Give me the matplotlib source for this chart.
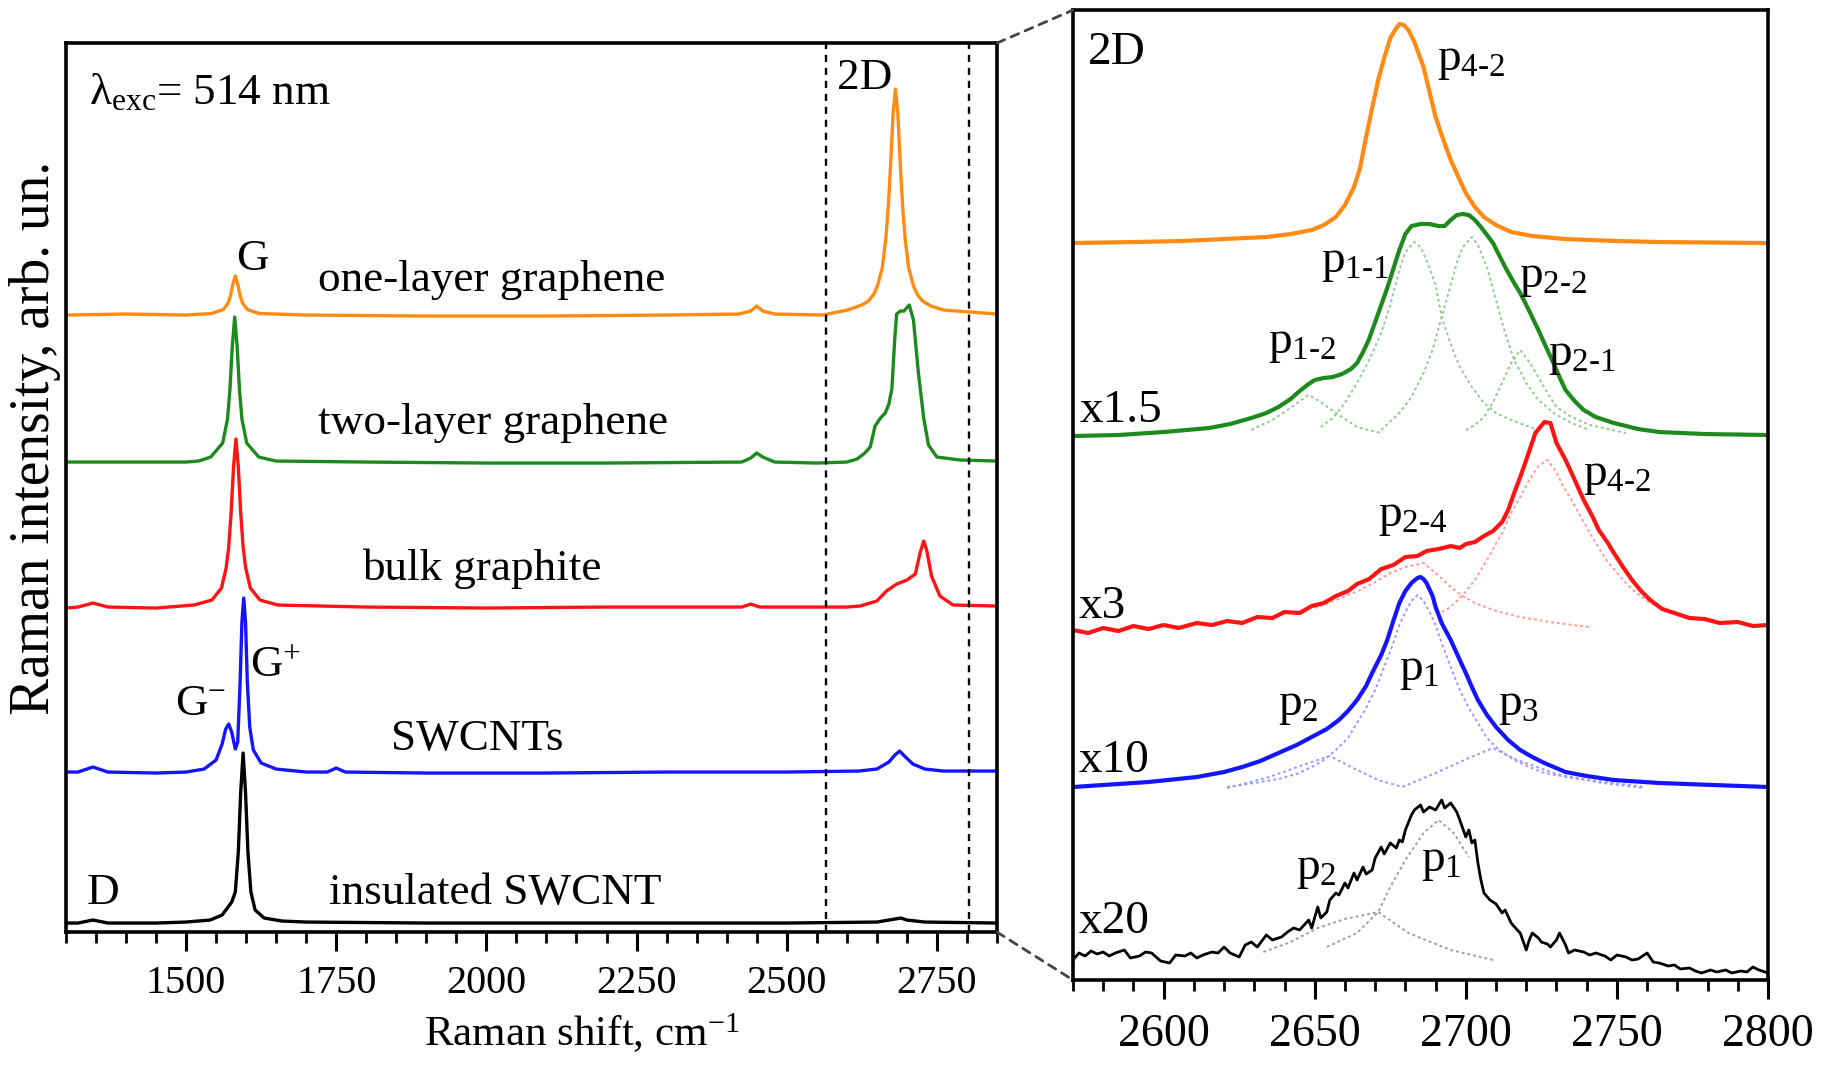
import matplotlib
matplotlib.use("Agg")
import matplotlib.pyplot as plt
from matplotlib.patches import ConnectionPatch
from matplotlib.ticker import MultipleLocator

# ---- full spectra (left panel), y in arbitrary units ----
one_x = [1300, 1400, 1500, 1542, 1562, 1570, 1574, 1578, 1582, 1586, 1590, 1594, 1602, 1622, 1700, 1900,
         2100, 2300, 2420, 2440, 2450, 2460, 2480, 2560, 2601, 2625, 2636, 2645, 2651, 2659, 2665, 2669,
         2673, 2677, 2681, 2685, 2689, 2693, 2697, 2703, 2711, 2718, 2726, 2740, 2761, 2850]
one_y = [617, 618, 617, 618.5, 622.5, 629, 636.5, 648, 656, 648, 636.5, 629, 622.5, 618.5, 617, 616,
         616, 617, 618, 621, 626, 621, 618, 617, 622, 627, 631, 638, 646, 664, 694, 725,
         768, 818, 843, 818, 768, 725, 694, 664, 646, 637, 631, 626, 622, 618]

two_x = [1300, 1400, 1500, 1521, 1541, 1561, 1569, 1573, 1577, 1581, 1585, 1589, 1593, 1601, 1621, 1650,
         1800, 2000, 2200, 2425, 2440, 2450, 2460, 2480, 2550, 2600, 2617, 2630, 2639, 2647, 2656, 2664,
         2670, 2675, 2680, 2683, 2689, 2695, 2704, 2711, 2719, 2728, 2736, 2750, 2789, 2850]
two_y = [470, 470, 470, 471, 475, 489, 513, 542, 586, 615, 586, 542, 513, 489, 475, 471,
         470, 469, 469, 470, 474, 479, 475, 470, 469, 470, 473, 479, 485, 506, 514, 519,
         528, 543, 595, 618, 621, 621, 627, 612, 560, 514, 487, 475, 472, 471]

bulk_x = [1300, 1320, 1345, 1370, 1450, 1513, 1543, 1559, 1567, 1571, 1575, 1579, 1583, 1587, 1591, 1595,
          1599, 1607, 1623, 1653, 1800, 2000, 2200, 2425, 2440, 2455, 2600, 2622, 2650, 2666, 2683, 2700,
          2714, 2722, 2728, 2733, 2741, 2755, 2777, 2850]
bulk_y = [324, 325, 329, 325, 324, 327, 332, 344, 365, 385, 419, 465, 493, 465, 419, 385,
          365, 344, 332, 327, 325, 324, 325, 325, 328, 325, 325, 326, 331, 341, 348, 352,
          358, 379, 391, 382, 356, 336, 327, 326]

swnt_x = [1300, 1320, 1345, 1370, 1450, 1500, 1530, 1550, 1560, 1566, 1571, 1576, 1582, 1586, 1590, 1593,
          1596, 1599, 1602, 1606, 1612, 1625, 1650, 1700, 1735, 1750, 1765, 1900, 2100, 2300, 2500, 2620,
          2650, 2670, 2680, 2688, 2696, 2710, 2730, 2760, 2850]
swnt_y = [160, 160, 165, 160, 159, 160, 163, 172, 188, 203, 208, 200, 183, 190, 250, 310,
          334, 310, 250, 205, 182, 169, 163, 160, 160, 164, 160, 159, 159, 160, 160, 161,
          163, 170, 177, 181, 176, 168, 163, 161, 161]

iso_x = [1300, 1320, 1345, 1370, 1450, 1500, 1540, 1560, 1570, 1576, 1582, 1587, 1591, 1595, 1599, 1603,
         1608, 1615, 1630, 1660, 1700, 1900, 2100, 2300, 2500, 2650, 2680, 2690, 2700, 2730, 2850]
iso_y = [9, 9, 12, 9, 9, 10, 12, 17, 25, 30, 40, 80, 140, 179, 140, 80,
         40, 22, 14, 11, 10, 9, 9, 9, 9, 10, 13, 14, 12, 10, 9]

zoom_lo, zoom_hi = 2565, 2803

# ---- 2D band (right panel) ----
r_one_x = [2570, 2590, 2606, 2620, 2634, 2642, 2649, 2653, 2657, 2660, 2663, 2665, 2667, 2669, 2671, 2673,
           2675, 2677, 2678, 2679.5, 2681, 2683, 2686, 2688, 2690, 2692, 2695, 2698, 2700, 2703, 2706, 2710,
           2715, 2722, 2733, 2750, 2764, 2800]
r_one_y = [737, 738, 739, 741, 743, 746, 750, 755, 763, 775, 793, 812, 843, 872, 900, 922,
           942, 952, 956, 955, 950, 938, 913, 888, 863, 845, 820, 800, 787, 773, 763, 755,
           748, 744, 741, 739, 738, 737]

r_two_x = [2570, 2585, 2600, 2615, 2622, 2629, 2634, 2638, 2642, 2645, 2648, 2650, 2653, 2656, 2659, 2662,
           2664, 2666, 2668, 2670, 2672, 2674, 2676, 2678, 2680, 2682, 2685, 2688, 2691, 2693, 2695, 2697,
           2699, 2701, 2703, 2705, 2707, 2709, 2711, 2713, 2716, 2718, 2721, 2724, 2727, 2729, 2731, 2733,
           2736, 2739, 2743, 2749, 2757, 2764, 2779, 2800]
r_two_y = [544, 545, 548, 552, 556, 562, 567, 573, 581, 589, 596, 600, 602, 603, 606, 611,
           617, 628, 641, 658, 675, 692, 711, 730, 746, 754, 756, 756, 754, 754, 760, 765,
           766, 765, 760, 753, 745, 737, 725, 713, 697, 687, 669, 650, 630, 617, 603, 590,
           579, 570, 563, 557, 551, 548, 546, 545]
p12_x = [2629, 2636, 2642, 2646, 2648, 2652, 2657, 2664, 2672]
p12_y = [550, 560, 572, 581, 585, 578, 567, 553, 547]
p11_x = [2652, 2656, 2660, 2664, 2668, 2672, 2675, 2678, 2680, 2683, 2685, 2687, 2690, 2692, 2695, 2698,
         2702, 2706, 2710, 2715, 2724]
p11_y = [553, 562, 577, 597, 620, 647, 675, 710, 728, 738, 733, 720, 695, 663, 636, 613,
         593, 577, 567, 560, 550]
p22_x = [2672, 2678, 2682, 2686, 2689, 2692, 2695, 2697, 2699, 2702, 2704, 2707, 2710, 2713, 2716, 2720,
         2724, 2729, 2735, 2741]
p22_y = [550, 567, 583, 607, 630, 663, 695, 717, 733, 743, 735, 713, 680, 647, 620, 597,
         580, 567, 557, 550]
p21_x = [2700, 2703, 2706, 2709, 2712, 2715, 2718, 2721, 2724, 2727, 2730, 2735, 2741, 2753]
p21_y = [550, 555, 563, 578, 597, 617, 630, 618, 603, 587, 573, 563, 555, 547]

r_bulk_x = [2570, 2575, 2580, 2585, 2590, 2595, 2600, 2605, 2611, 2616, 2621, 2626, 2631, 2636, 2640, 2645,
            2649, 2653, 2657, 2661, 2664, 2668, 2672, 2676, 2680, 2684, 2687, 2691, 2695, 2698, 2700, 2703,
            2706, 2709, 2712, 2714, 2716, 2718, 2720, 2723, 2726, 2728, 2730, 2733, 2735, 2739, 2742, 2744,
            2747, 2749, 2752, 2755, 2758, 2761, 2765, 2769, 2774, 2779, 2784, 2790, 2795, 2800]
r_bulk_y = [350, 347, 352, 349, 354, 351, 355, 352, 357, 355, 359, 357, 363, 362, 368, 367,
            374, 377, 384, 389, 396, 401, 411, 415, 423, 424, 429, 431, 434, 432, 436, 438,
            444, 449, 458, 470, 487, 503, 520, 547, 558, 557, 537, 520, 507, 480, 463, 450,
            437, 427, 413, 400, 389, 380, 371, 367, 362, 361, 357, 358, 354, 355]
p24_x = [2650, 2658, 2665, 2670, 2675, 2680, 2686, 2690, 2695, 2699, 2703, 2710, 2718, 2730, 2741]
p24_y = [372, 381, 390, 398, 407, 413, 417, 407, 393, 384, 377, 369, 363, 357, 353]
p42_x = [2692, 2695, 2699, 2703, 2707, 2712, 2715, 2718, 2721, 2724, 2727, 2730, 2732, 2735, 2739, 2743,
         2747, 2752, 2756, 2761, 2769]
p42_y = [368, 373, 385, 400, 420, 447, 467, 483, 500, 514, 520, 508, 495, 480, 458, 437,
         418, 400, 388, 377, 367]

r_swnt_x = [2570, 2585, 2595, 2611, 2620, 2626, 2632, 2638, 2644, 2649, 2654, 2658, 2661, 2664, 2667, 2669,
            2672, 2674, 2676, 2678, 2680, 2682, 2684, 2685, 2686, 2687, 2689, 2690, 2692, 2695, 2698, 2700,
            2702, 2704, 2707, 2710, 2714, 2718, 2722, 2726, 2733, 2740, 2749, 2764, 2800]
r_swnt_y = [193, 196, 198, 203, 208, 213, 219, 227, 235, 243, 251, 260, 269, 280, 294, 307,
            325, 340, 359, 377, 389, 397, 402, 403, 401, 397, 384, 373, 357, 340, 320, 307,
            293, 280, 265, 253, 240, 230, 223, 217, 208, 204, 200, 197, 193]
sp1_x = [2621, 2630, 2638, 2644, 2649, 2653, 2657, 2661, 2664, 2667, 2670, 2673, 2676, 2678, 2680, 2682,
         2684, 2686, 2688, 2690, 2692, 2695, 2698, 2701, 2704, 2707, 2711, 2716, 2721, 2726, 2735, 2749, 2759]
sp1_y = [193, 197, 201, 206, 213, 220, 230, 242, 257, 272, 290, 313, 337, 355, 368, 379,
         385, 379, 368, 355, 337, 313, 290, 272, 257, 242, 230, 220, 213, 207, 202, 197, 193]
sp2_x = [2621, 2635, 2648, 2655, 2662, 2671, 2679]
sp2_y = [192, 203, 217, 224, 213, 200, 193]
sp3_x = [2679, 2690, 2701, 2709, 2717, 2730, 2745, 2759]
sp3_y = [193, 207, 222, 232, 220, 206, 197, 192]

r_iso_x = [2570, 2572, 2574, 2576, 2578, 2580, 2582, 2584, 2587, 2589, 2592, 2594, 2596, 2599, 2602, 2604,
           2607, 2609, 2611, 2613, 2616, 2618, 2620, 2622, 2625, 2627, 2629, 2631, 2634, 2636, 2639, 2641,
           2643, 2645, 2648, 2649, 2651, 2652, 2654, 2655, 2657, 2658, 2660, 2661, 2663, 2664, 2666, 2667,
           2669, 2670, 2672, 2673, 2675, 2677, 2678, 2679, 2680, 2682, 2683, 2685, 2686, 2688, 2690, 2692,
           2693, 2695, 2697, 2698, 2700, 2701, 2702, 2703, 2704, 2705, 2706, 2708, 2710, 2712, 2713, 2715,
           2717, 2718, 2720, 2721, 2722, 2724, 2725, 2727, 2728, 2730, 2731, 2733, 2734, 2736, 2739, 2741,
           2743, 2746, 2748, 2750, 2753, 2755, 2757, 2760, 2762, 2764, 2767, 2769, 2771, 2774, 2776, 2778,
           2781, 2783, 2786, 2788, 2791, 2793, 2795, 2797, 2800]
r_iso_y = [20, 27, 24, 29, 26, 28, 24, 27, 30, 22, 24, 28, 27, 19, 17, 25,
           24, 27, 22, 25, 28, 27, 33, 27, 23, 35, 38, 33, 45, 40, 43, 48,
           52, 50, 60, 52, 73, 62, 68, 80, 87, 85, 97, 92, 107, 100, 113, 106,
           110, 122, 133, 126, 137, 132, 140, 138, 150, 165, 170, 175, 168, 173, 170, 180,
           172, 177, 168, 160, 143, 150, 137, 140, 117, 100, 87, 80, 76, 67, 70, 57,
           50, 47, 30, 40, 47, 42, 38, 36, 33, 40, 47, 35, 27, 30, 28, 25,
           27, 24, 20, 25, 23, 20, 21, 27, 18, 17, 14, 15, 11, 12, 9, 7,
           10, 8, 10, 7, 9, 8, 13, 10, 7]
ip2_x = [2633, 2642, 2651, 2660, 2671, 2681, 2695, 2709]
ip2_y = [28, 38, 52, 61, 68, 47, 30, 20]
ip1_x = [2654, 2664, 2671, 2675, 2680, 2686, 2691, 2696, 2701]
ip1_y = [33, 47, 68, 93, 120, 147, 160, 147, 123]

plt.rcParams['font.family'] = ['Liberation Serif', 'DejaVu Serif']
plt.rcParams['mathtext.fontset'] = 'custom'
plt.rcParams['mathtext.rm'] = 'Liberation Serif'
plt.rcParams['mathtext.it'] = 'Liberation Serif:italic'

ORANGE = '#ff8a14'
GREEN = '#1c8a1c'
RED = '#ff1414'
BLUE = '#1414ff'

fig = plt.figure(figsize=(18.31, 10.68), dpi=100)
ax1 = fig.add_axes([0.0360, 0.1273, 0.5085, 0.8324])
ax2 = fig.add_axes([0.5860, 0.0824, 0.3796, 0.9082])

lw = 2.4
ax1.plot(one_x, one_y, color=ORANGE, lw=lw)
ax1.plot(two_x, two_y, color=GREEN, lw=lw)
ax1.plot(bulk_x, bulk_y, color=RED, lw=lw)
ax1.plot(swnt_x, swnt_y, color=BLUE, lw=lw)
ax1.plot(iso_x, iso_y, color='black', lw=lw)
for xv in (zoom_lo, zoom_hi):
    ax1.axvline(xv, color='black', lw=1.7, ls=(0, (3, 2.5)))
ax1.set_xlim(1300, 2850)
ax1.set_ylim(0, 889)

fs = 32.5
ax1.text(1338, 840, 'λ$_{\\rm exc}$= 514 nm', fontsize=fs, va='center')
ax1.text(2629, 854, '2D', fontsize=fs, ha='center', va='center')
ax1.text(1610, 673, 'G', fontsize=fs, ha='center', va='center')
ax1.text(1720, 652, 'one-layer graphene', fontsize=fs, va='center')
ax1.text(1720, 509, 'two-layer graphene', fontsize=fs, va='center')
ax1.text(1793, 363, 'bulk graphite', fontsize=fs, va='center')
ax1.text(1525, 228, r'G$^{-}$', fontsize=fs, ha='center', va='center')
ax1.text(1650, 266, r'G$^{+}$', fontsize=fs, ha='center', va='center')
ax1.text(1841, 193, 'SWCNTs', fontsize=fs, va='center')
ax1.text(1362, 39, 'D', fontsize=fs, ha='center', va='center')
ax1.text(1738, 39, 'insulated SWCNT', fontsize=fs, va='center')

lw2 = 3.0
dot = (0, (1.5, 1.5))
ax2.plot(r_one_x, r_one_y, color=ORANGE, lw=lw2)
for xs, ys in ((p12_x, p12_y), (p11_x, p11_y), (p22_x, p22_y), (p21_x, p21_y)):
    ax2.plot(xs, ys, color='#8fcc8f', lw=1.4, ls=dot)
ax2.plot(r_two_x, r_two_y, color=GREEN, lw=lw2)
for xs, ys in ((p24_x, p24_y), (p42_x, p42_y)):
    ax2.plot(xs, ys, color='#ff9a9a', lw=1.4, ls=dot)
ax2.plot(r_bulk_x, r_bulk_y, color=RED, lw=lw2)
for xs, ys in ((sp1_x, sp1_y), (sp2_x, sp2_y), (sp3_x, sp3_y)):
    ax2.plot(xs, ys, color='#9a9aff', lw=1.4, ls=dot)
ax2.plot(r_swnt_x, r_swnt_y, color=BLUE, lw=lw2)
for xs, ys in ((ip2_x, ip2_y), (ip1_x, ip1_y)):
    ax2.plot(xs, ys, color='#a0a0a0', lw=1.4, ls=dot)
ax2.plot(r_iso_x, r_iso_y, color='black', lw=2.0)
ax2.set_xlim(2570, 2800)
ax2.set_ylim(0, 970)


def plab(n):
    return r'p$_{\mathrm{' + n.replace('-', r'\text{-}') + '}}$'


fs2 = 34
ax2.text(2575, 927, '2D', fontsize=fs2, va='center')
ax2.text(2701.7, 919, plab('4-2'), fontsize=fs2, ha='center', va='center')
ax2.text(2663.3, 717, plab('1-1'), fontsize=fs2, ha='center', va='center')
ax2.text(2728.8, 702, plab('2-2'), fontsize=fs2, ha='center', va='center')
ax2.text(2645.8, 636, plab('1-2'), fontsize=fs2, ha='center', va='center')
ax2.text(2738.4, 624, plab('2-1'), fontsize=fs2, ha='center', va='center')
ax2.text(2572.3, 569, 'x1.5', fontsize=fs2, va='center')
ax2.text(2750, 504, plab('4-2'), fontsize=fs2, ha='center', va='center')
ax2.text(2682.5, 463, plab('2-4'), fontsize=fs2, ha='center', va='center')
ax2.text(2572, 373, 'x3', fontsize=fs2, va='center')
ax2.text(2684.5, 309, plab('1'), fontsize=fs2, ha='center', va='center')
ax2.text(2644.5, 274, plab('2'), fontsize=fs2, ha='center', va='center')
ax2.text(2717.3, 274, plab('3'), fontsize=fs2, ha='center', va='center')
ax2.text(2572, 219, 'x10', fontsize=fs2, va='center')
ax2.text(2650.4, 110, plab('2'), fontsize=fs2, ha='center', va='center')
ax2.text(2692, 118, plab('1'), fontsize=fs2, ha='center', va='center')
ax2.text(2572, 58, 'x20', fontsize=fs2, va='center')

for ax, major, minor, tfs in ((ax1, 250, 50, 29), (ax2, 50, 10, 33)):
    ax.xaxis.set_major_locator(MultipleLocator(major))
    ax.xaxis.set_minor_locator(MultipleLocator(minor))
    ax.tick_params(axis='x', which='major', direction='out', length=14, width=2.2,
                   labelsize=tfs, pad=10)
    ax.tick_params(axis='x', which='minor', direction='out', length=8, width=2.0)
    ax.set_yticks([])
    for sp in ax.spines.values():
        sp.set_linewidth(2.6)

ax1.set_xticks([1500, 1750, 2000, 2250, 2500, 2750])
ax2.set_xticks([2600, 2650, 2700, 2750, 2800])

fig.text(582 / 1831, 1 - 1033 / 1068, r'Raman shift, cm$^{-1}$', fontsize=31,
         ha='center', va='center')
fig.text(35 / 1831, 1 - 438 / 1068, 'Raman intensity, arb. un.', fontsize=40,
         ha='center', va='center', rotation=90)

for a, b in (((1, 1), (0, 1)), ((1, 0), (0, 0))):
    con = ConnectionPatch(xyA=a, coordsA=ax1.transAxes, xyB=b, coordsB=ax2.transAxes,
                          color='#444444', lw=2.0, ls=(0, (3, 2.5)))
    fig.add_artist(con)

fig.savefig('out.png', dpi=100)
